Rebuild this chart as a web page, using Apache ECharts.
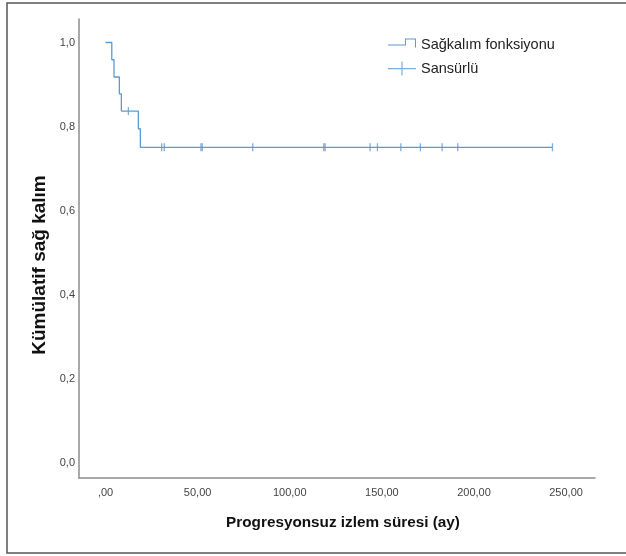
<!DOCTYPE html>
<html>
<head>
<meta charset="utf-8">
<script src="https://cdn.jsdelivr.net/npm/echarts@6/dist/echarts.min.js"></script>
<style>
html,body{margin:0;padding:0;background:#fff;}
#chart{width:626px;height:556px;}
</style>
</head>
<body>
<div id="chart"></div>
<script>
// Kaplan-Meier survival step curve (time in months, cumulative survival)
var survTimes = [0, 3.4, 4.6, 7.5, 8.6, 17.8, 18.9, 242.6];
var survValues = [1.0, 0.959, 0.918, 0.878, 0.837, 0.795, 0.751, 0.751];
// Censored observations
var censorTimes = [12.4, 30.5, 31.9, 51.8, 52.5, 79.9, 118.5, 119.2, 143.6, 147.6, 160.3, 170.9, 182.7, 191.2, 242.6];
var censorValues = [0.837, 0.751, 0.751, 0.751, 0.751, 0.751, 0.751, 0.751, 0.751, 0.751, 0.751, 0.751, 0.751, 0.751, 0.751];
var xTicks = [0, 50, 100, 150, 200, 250];
var yTicks = [0, 0.2, 0.4, 0.6, 0.8, 1.0];

var lineColor = '#5a9bd5';

var survData = survTimes.map(function (t, i) { return [t, survValues[i]]; });
var censorData = censorTimes.map(function (t, i) { return [t, censorValues[i]]; });

var chart = echarts.init(document.getElementById('chart'), null, {renderer: 'canvas'});
chart.setOption({
  animation: false,
  backgroundColor: '#fff',
  textStyle: {fontFamily: 'Liberation Sans, Arial, sans-serif'},
  grid: {left: 79, right: 31, top: 19, bottom: 78, containLabel: false},
  graphic: [{
    type: 'rect',
    shape: {x: 7, y: 3, width: 640, height: 550},
    style: {fill: 'none', stroke: '#555', lineWidth: 1.5},
    silent: true,
    z: 100
  }],
  legend: {
    orient: 'vertical',
    left: 383,
    top: 32,
    itemWidth: 28,
    itemHeight: 14,
    itemGap: 9,
    textStyle: {fontSize: 14.5, color: '#222', padding: [0, 0, 0, 0]},
    itemStyle: {borderWidth: 0},
    data: [
      {name: 'Sağkalım fonksiyonu', icon: 'path://M0,7 L17,7 L17,1 L28,1 L28,10 L27,10 L27,2 L18,2 L18,8 L0,8 Z M0,0 L0.01,0 L0,0.01 Z M0,14 L0.01,14 L0,13.99 Z', itemStyle: {color: lineColor}},
      {name: 'Sansürlü', icon: 'path://M0,6.5 L28,6.5 L28,7.7 L0,7.7 Z M13.4,0 L14.6,0 L14.6,14 L13.4,14 Z', itemStyle: {color: lineColor}}
    ]
  },
  xAxis: {
    type: 'value',
    min: -14.4,
    max: 265.7,
    name: 'Progresyonsuz izlem süresi (ay)',
    nameLocation: 'middle',
    nameGap: 37,
    nameTextStyle: {fontSize: 15.3, fontWeight: 'bold', color: '#111', padding: [0, 0, 0, 12], fontFamily: 'Liberation Sans, Arial, sans-serif'},
    axisLine: {show: true, onZero: false, lineStyle: {color: '#8c8c8c', width: 1.5}},
    axisTick: {show: false},
    splitLine: {show: false},
    axisLabel: {
      customValues: xTicks,
      margin: 9,
      fontSize: 11,
      color: '#444',
      formatter: function (v) {
        var s = v.toFixed(2).replace('.', ',');
        if (v === 0) s = ',00';
        return s;
      }
    }
  },
  yAxis: {
    type: 'value',
    min: -0.0351,
    max: 1.0559,
    name: 'Kümülatif sağ kalım',
    nameLocation: 'middle',
    nameGap: 30,
    nameRotate: 90,
    nameTextStyle: {fontSize: 19, fontWeight: 'bold', color: '#111', padding: [0, 33, 0, 0], fontFamily: 'Liberation Sans, Arial, sans-serif'},
    axisLine: {show: true, onZero: false, lineStyle: {color: '#8c8c8c', width: 1.5}},
    axisTick: {show: false},
    splitLine: {show: false},
    axisLabel: {
      customValues: yTicks,
      margin: 4,
      fontSize: 11,
      color: '#444',
      verticalAlign: 'middle',
      padding: [5, 0, 0, 0],
      formatter: function (v) { return v.toFixed(1).replace('.', ','); }
    }
  },
  series: [
    {
      name: 'Sağkalım fonksiyonu',
      type: 'line',
      step: 'end',
      data: survData,
      symbol: 'none',
      lineStyle: {color: lineColor, width: 1.3},
      itemStyle: {color: lineColor},
      z: 2
    },
    {
      name: 'Sansürlü',
      type: 'scatter',
      data: censorData,
      symbol: 'rect',
      symbolSize: [1.3, 8],
      itemStyle: {color: lineColor},
      z: 3
    }
  ]
});
</script>
</body>
</html>
